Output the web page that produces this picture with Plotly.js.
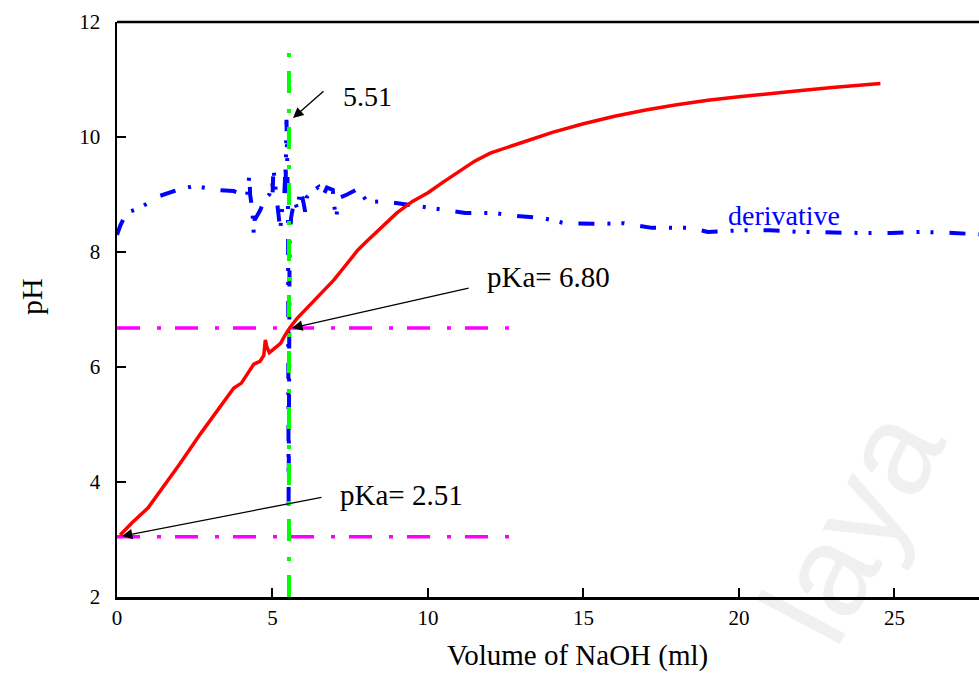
<!DOCTYPE html>
<html>
<head>
<meta charset="utf-8">
<script src="https://cdn.plot.ly/plotly-3.0.1.min.js"></script>
<style>html,body{margin:0;padding:0;background:#fff;}#chart{width:979px;height:673px;}</style>
</head>
<body>
<div id="chart"></div>
<script>
// Titration curve (pH vs volume of NaOH)
var phVolume = [0.1, 0.5, 1.0, 1.5, 2.0, 2.7, 3.3, 3.75, 4.0, 4.4, 4.6, 4.72, 4.77, 4.82, 4.9, 5.0, 5.26, 5.4, 5.58, 5.8, 6.13, 6.5, 6.97, 7.4, 7.74, 8.0, 8.5, 9.0, 9.5, 10.0, 10.5, 11.0, 11.5, 12.0, 12.3, 13, 14, 15, 16, 17, 18, 19, 20, 21, 22, 23, 24, 24.55];
var phValues = [3.08, 3.3, 3.55, 3.92, 4.3, 4.85, 5.3, 5.63, 5.72, 6.05, 6.1, 6.2, 6.47, 6.35, 6.25, 6.3, 6.41, 6.55, 6.7, 6.85, 7.03, 7.25, 7.51, 7.8, 8.03, 8.17, 8.42, 8.68, 8.88, 9.03, 9.22, 9.4, 9.58, 9.72, 9.77, 9.9, 10.08, 10.23, 10.36, 10.47, 10.56, 10.64, 10.7, 10.76, 10.81, 10.86, 10.91, 10.93];

// Derivative curve (plotted on the same scale)
var derivVolume = [0, 0.1, 0.3, 0.65, 1.0, 1.35, 2.0, 2.5, 3.2, 3.75, 4.18, 4.26, 4.28, 4.35, 4.4, 4.42, 4.6, 4.75, 4.9, 5.0, 5.0, 5.03, 5.1, 5.2, 5.25, 5.3, 5.38, 5.42, 5.42, 5.44, 5.45, 5.47, 5.5, 5.52, 5.55, 5.6, 5.7, 5.8, 5.9, 6.0, 6.05, 6.1, 6.25, 6.48, 6.6, 6.75, 6.94, 6.97, 7.05, 7.13, 7.4, 7.75, 8.05, 8.6, 9.6, 10.2, 11.2, 11.7, 12.1, 12.8, 13.7, 14.4, 15.5, 16.3, 17.2, 18.4, 19.0, 20.2, 21.0, 21.9, 23.1, 24.0, 24.9, 25.9, 26.9, 28];
var derivValues = [8.3, 8.45, 8.68, 8.75, 8.85, 8.97, 9.09, 9.15, 9.08, 9.06, 8.97, 9.35, 9.0, 8.75, 8.3, 8.55, 8.72, 8.92, 9.0, 9.2, 8.95, 9.46, 9.1, 8.6, 8.38, 8.7, 9.0, 9.48, 9.0, 9.8, 10.3, 9.7, 8.7, 3.5, 8.2, 8.6, 8.9, 8.75, 9.1, 8.85, 8.7, 8.95, 9.05, 9.13, 8.95, 9.12, 9.08, 8.85, 8.6, 8.94, 9.0, 9.1, 8.87, 8.88, 8.8, 8.75, 8.68, 8.68, 8.68, 8.63, 8.59, 8.5, 8.49, 8.5, 8.42, 8.42, 8.35, 8.38, 8.38, 8.35, 8.33, 8.33, 8.33, 8.35, 8.33, 8.3];

// Reference lines
var pka1Line = {x: [0, 12.65], y: [6.68, 6.68]};
var pka2Line = {x: [0, 12.65], y: [3.05, 3.05]};
var eqLine = {x: [5.53, 5.53], y: [2, 11.52]};

var xTicks = [0, 5, 10, 15, 20, 25];
var yTicks = [2, 4, 6, 8, 10, 12];

var serif = 'Liberation Serif, Times New Roman, serif';

var traces = [
  {x: pka1Line.x, y: pka1Line.y, mode: 'lines', line: {color: '#ff00ff', width: 3.5, dash: '23px,17px,4px,14px'}, hoverinfo: 'skip'},
  {x: pka2Line.x, y: pka2Line.y, mode: 'lines', line: {color: '#ff00ff', width: 3.5, dash: '23px,17px,4px,14px'}, hoverinfo: 'skip'},
  {x: derivVolume, y: derivValues, mode: 'lines', line: {color: '#0000ff', width: 4, dash: '16px,13px,3px,11px,3px,16px'}},
  {x: eqLine.x, y: eqLine.y, mode: 'lines', line: {color: '#00ff00', width: 4, dash: '22px,14px,4px,16px'}, hoverinfo: 'skip'},
  {x: phVolume, y: phValues, mode: 'lines', line: {color: '#ff0000', width: 3.5}}
];

var arrowBase = {showarrow: true, arrowhead: 2, arrowsize: 1.6, arrowwidth: 1.3, arrowcolor: '#000', text: '', xref: 'x', yref: 'y'};

var layout = {
  width: 979, height: 673,
  margin: {l: 117, r: 0, t: 22, b: 76},
  paper_bgcolor: '#fff', plot_bgcolor: 'rgba(0,0,0,0)',
  showlegend: false,
  font: {family: serif, color: '#000'},
  xaxis: {
    range: [0, 27.72], tickvals: xTicks, ticktext: xTicks.map(String),
    showline: true, linecolor: '#000', linewidth: 2.5,
    ticks: 'inside', ticklen: 9, tickwidth: 2, tickcolor: '#000',
    showgrid: false, zeroline: false,
    tickfont: {family: serif, size: 21, color: '#000'}
  },
  yaxis: {
    range: [2, 12], tickvals: yTicks, ticktext: yTicks.map(String),
    showline: true, linecolor: '#000', linewidth: 2.5,
    ticks: 'inside', ticklen: 9, tickwidth: 2, tickcolor: '#000',
    showgrid: false, zeroline: false,
    tickfont: {family: serif, size: 21, color: '#000'},
    ticklabelstandoff: 10
  },
  shapes: [
    {type: 'line', xref: 'paper', yref: 'paper', x0: 0, x1: 1, y0: 1, y1: 1, line: {color: '#000', width: 2.5}},
    {type: 'rect', xref: 'paper', yref: 'paper', x0: 0.80, x1: 0.88, y0: 0.10, y1: 0.17, layer: 'below',
     line: {width: 0}, fillcolor: 'rgba(0,0,0,0)',
     label: {text: 'laya', textangle: -62, textposition: 'middle center', font: {family: 'Liberation Sans, Arial, sans-serif', size: 130, color: '#f0f0f0'}}}
  ],
  annotations: [
    Object.assign({}, arrowBase, {x: 5.66, y: 10.33, ax: 32, ay: -28}),
    Object.assign({}, arrowBase, {x: 5.63, y: 6.68, ax: 178, ay: -40}),
    Object.assign({}, arrowBase, {x: 0.16, y: 3.06, ax: 201, ay: -39}),
    {x: 8.04, y: 10.70, xref: 'x', yref: 'y', text: '5.51', showarrow: false, font: {family: serif, size: 28, color: '#000'}},
    {x: 13.86, y: 7.57, xref: 'x', yref: 'y', text: 'pKa= 6.80', showarrow: false, font: {family: serif, size: 29, color: '#000'}},
    {x: 9.16, y: 3.77, xref: 'x', yref: 'y', text: 'pKa= 2.51', showarrow: false, font: {family: serif, size: 29, color: '#000'}},
    {x: 21.45, y: 8.64, xref: 'x', yref: 'y', text: 'derivative', showarrow: false, font: {family: serif, size: 28, color: '#0000ff'}},
    {x: (577 - 117) / 862, y: -(655 - 597) / 575, xref: 'paper', yref: 'paper', xanchor: 'center', yanchor: 'middle', text: 'Volume of NaOH (ml)', showarrow: false, font: {family: serif, size: 29, color: '#000'}},
    {x: -(117 - 31) / 862, y: (597 - 297) / 575, xref: 'paper', yref: 'paper', xanchor: 'center', yanchor: 'middle', text: 'pH', textangle: -90, showarrow: false, font: {family: serif, size: 30, color: '#000'}}
  ]
};

Plotly.newPlot('chart', traces, layout, {displayModeBar: false, staticPlot: true});
</script>
</body>
</html>
